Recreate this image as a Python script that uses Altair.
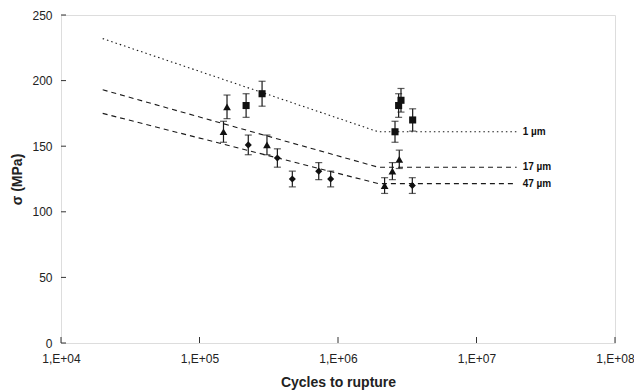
import altair as alt
import pandas as pd

# ---- data ----
sq_n = [2.17e5, 2.83e5, 2.58e6, 2.74e6, 2.85e6, 3.46e6]
sq_s = [181, 190, 161, 181, 185, 170]
sq_e = [9, 9.5, 8, 9, 9, 8.5]

tri_n = [1.49e5, 1.58e5, 3.07e5, 2.17e6, 2.47e6, 2.77e6]
tri_s = [161, 180, 151, 120, 131, 140]
tri_e = [8, 9, 7.5, 6, 6.5, 7]

dia_n = [2.25e5, 3.65e5, 4.68e5, 7.26e5, 8.85e5, 3.44e6]
dia_s = [151, 141, 125, 131, 125, 120]
dia_e = [7.5, 7, 6, 6.5, 6, 6]

line_n = [2e4, 1.95e6, 1.95e7]
line_1 = [232, 161, 161]
line_17 = [193, 134, 134]
line_47 = [175, 121.5, 121.5]

labels = ["1 µm", "17 µm", "47 µm"]

x_ticks = [1e4, 1e5, 1e6, 1e7, 1e8]
y_ticks = [0, 50, 100, 150, 200, 250]

FONT = "Liberation Sans"
INK = "#1a1a1a"

xscale = alt.Scale(type="log", domain=[1e4, 1e8], nice=False)
yscale = alt.Scale(domain=[0, 250], nice=False)

xaxis = alt.Axis(values=x_ticks, title="Cycles to rupture",
                 labelExpr="'1,E+0' + round(log(datum.value)/LN10)",
                 grid=False, tickSize=0, labelPadding=10, titlePadding=11,
                 domain=False, labelFontSize=12, titleFontSize=14,
                 titleFontWeight="bold", labelColor="#222", titleColor="#222",
                 labelFont=FONT, titleFont=FONT, labelFlush=False)
yaxis = alt.Axis(values=y_ticks, title="σ (MPa)", grid=False, tickSize=0,
                 labelPadding=9, titlePadding=7, domain=False,
                 labelFontSize=12, titleFontSize=14, titleFontWeight="bold",
                 labelColor="#222", titleColor="#222",
                 labelFont=FONT, titleFont=FONT)


def pts(n, s, e):
    return pd.DataFrame({"n": n, "s": s,
                         "lo": [a - b for a, b in zip(s, e)],
                         "hi": [a + b for a, b in zip(s, e)]})


sq = pts(sq_n, sq_s, sq_e)
tri = pts(tri_n, tri_s, tri_e)
dia = pts(dia_n, dia_s, dia_e)

layers = []

base_axis = alt.Chart(pd.DataFrame({"n": x_ticks[:1], "s": y_ticks[:1]})).mark_point(opacity=0).encode(
    x=alt.X("n:Q", scale=xscale, axis=xaxis),
    y=alt.Y("s:Q", scale=yscale, axis=yaxis),
)
layers.append(base_axis)

# inward ticks
xt = alt.Chart(pd.DataFrame({"n": x_ticks})).mark_rule(color="#333", strokeWidth=1).encode(
    x=alt.X("n:Q", scale=xscale), y=alt.value(328), y2=alt.value(322))
yt = alt.Chart(pd.DataFrame({"s": y_ticks})).mark_rule(color="#333", strokeWidth=1).encode(
    y=alt.Y("s:Q", scale=yscale), x=alt.value(0), x2=alt.value(5))
layers += [xt, yt]

# fitted lines
for vals, dash in [(line_1, [1.5, 3]), (line_17, [5, 4]), (line_47, [5, 4])]:
    df = pd.DataFrame({"n": line_n, "s": vals})
    layers.append(alt.Chart(df).mark_line(color=INK, strokeWidth=1.1, strokeDash=dash).encode(
        x=alt.X("n:Q", scale=xscale), y=alt.Y("s:Q", scale=yscale)))

# labels
lab = pd.DataFrame({"n": [line_n[-1]] * 3, "s": [line_1[-1], line_17[-1], line_47[-1]], "t": labels})
layers.append(alt.Chart(lab).mark_text(align="left", baseline="middle", dx=6, fontSize=10,
                                       font=FONT, fontWeight="bold", color="#111").encode(
    x=alt.X("n:Q", scale=xscale), y=alt.Y("s:Q", scale=yscale), text="t:N"))

# error bars + markers
for df, shape, size in [(sq, "square", 50), (tri, "triangle-up", 60), (dia, "diamond", 50)]:
    layers.append(alt.Chart(df).mark_rule(color=INK, strokeWidth=1.2).encode(
        x=alt.X("n:Q", scale=xscale), y=alt.Y("lo:Q", scale=yscale), y2="hi:Q"))
    for col in ["lo", "hi"]:
        layers.append(alt.Chart(df).mark_tick(color=INK, thickness=1.2, size=7, orient="horizontal").encode(
            x=alt.X("n:Q", scale=xscale), y=alt.Y(col + ":Q", scale=yscale)))
    layers.append(alt.Chart(df).mark_point(shape=shape, filled=True, size=size, color="#111", opacity=1).encode(
        x=alt.X("n:Q", scale=xscale), y=alt.Y("s:Q", scale=yscale)))

chart = alt.layer(*layers).properties(
    width=554, height=328,
    autosize=alt.AutoSizeParams(type="none"),
    padding={"left": 61, "top": 15, "right": 19, "bottom": 49},
).configure_view(stroke="#333", strokeWidth=1.5).configure(background="white")

chart.save("out.html", embed_options={"renderer": "svg", "actions": False})
